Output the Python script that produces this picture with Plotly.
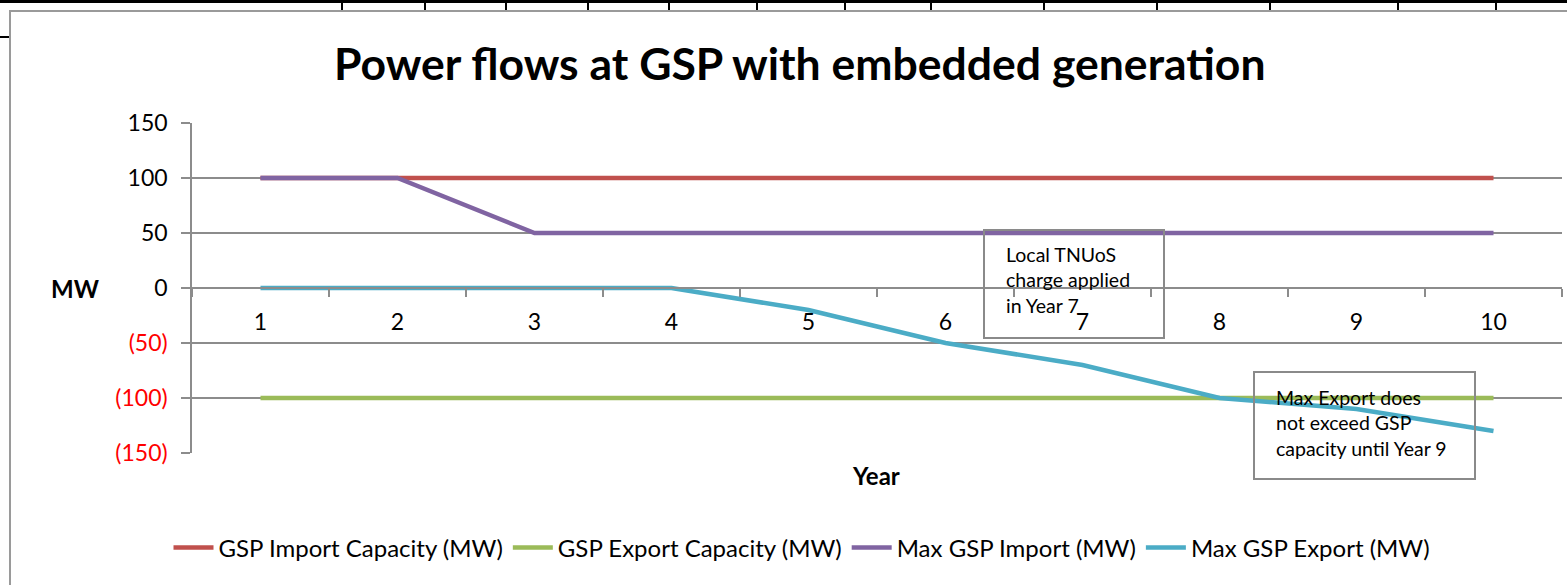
import plotly.graph_objects as go

# ---- data ----
years = ["1", "2", "3", "4", "5", "6", "7", "8", "9", "10"]
gsp_import_capacity = [100, 100, 100, 100, 100, 100, 100, 100, 100, 100]
gsp_export_capacity = [-100, -100, -100, -100, -100, -100, -100, -100, -100, -100]
max_gsp_import = [100, 100, 50, 50, 50, 50, 50, 50, 50, 50]
max_gsp_export = [0, 0, 0, 0, -20, -50, -70, -100, -110, -130]

series_names = ["GSP Import Capacity (MW)", "GSP Export Capacity (MW)",
                "Max GSP Import (MW)", "Max GSP Export (MW)"]
y_tickvals = [150, 100, 50, 0, -50, -100, -150]

title_text = "Power flows at GSP with embedded generation"
note1 = "Local TNUoS<br>charge applied<br>in Year 7"
note2 = "Max Export does<br>not exceed GSP<br>capacity until Year 9"

# ---- layout helpers (pixel -> paper) ----
W, H = 1567, 585
L, R, T, B = 192, 1562, 123, 453
def px(x):
    return (x - L) / (R - L)
def py(y):
    return (B - y) / (B - T)

FONT = "Lato"
GRID = "#8c8c8c"
colors = ["#C0504D", "#9BBB59", "#8064A2", "#4BACC6"]

def fmt(v):
    if v < 0:
        return f"<span style='color:#FF0000'>({abs(v)})</span>"
    return str(v)

y_ticktext = [fmt(v) for v in y_tickvals]

fig = go.Figure()
for name, vals, c in zip(series_names,
                         [gsp_import_capacity, gsp_export_capacity, max_gsp_import, max_gsp_export],
                         colors):
    fig.add_trace(go.Scatter(x=years, y=vals, mode="lines", name=name,
                             line=dict(color=c, width=4.5)))

shapes = []
# spreadsheet cell lines at top
shapes.append(dict(type="line", xref="paper", yref="paper", x0=px(0), x1=px(W), y0=py(1.5), y1=py(1.5),
                   line=dict(color="black", width=3), layer="above"))
for xv in [342, 425, 506, 588, 669, 757, 845, 931, 1044, 1157, 1270, 1398, 1496]:
    shapes.append(dict(type="line", xref="paper", yref="paper", x0=px(xv), x1=px(xv), y0=py(0), y1=py(11),
                       line=dict(color="black", width=2)))
shapes.append(dict(type="line", xref="paper", yref="paper", x0=px(0), x1=px(10), y0=py(37), y1=py(37),
                   line=dict(color="black", width=2)))
# chart frame (top and left edges)
shapes.append(dict(type="path", xref="paper", yref="paper",
                   path=f"M {px(10)},{py(H+5)} L {px(10)},{py(11)} L {px(W+5)},{py(11)}",
                   line=dict(color="#9a9a9a", width=2)))
# note boxes
shapes.append(dict(type="rect", xref="paper", yref="paper", x0=px(984), x1=px(1164), y0=py(230), y1=py(338),
                   line=dict(color="#8a8a8a", width=2), fillcolor="rgba(0,0,0,0)"))
shapes.append(dict(type="rect", xref="paper", yref="paper", x0=px(1254), x1=px(1475), y0=py(372), y1=py(479),
                   line=dict(color="#8a8a8a", width=2), fillcolor="rgba(0,0,0,0)"))

annotations = [
    dict(text=f"<b>{title_text}</b>", xref="paper", yref="paper", x=px(800), y=py(62),
         xanchor="center", yanchor="middle", showarrow=False,
         font=dict(family=FONT, size=44.5, color="black")),
    dict(text="<b>MW</b>", xref="paper", yref="paper", x=px(75), y=py(288),
         xanchor="center", yanchor="middle", showarrow=False,
         font=dict(family=FONT, size=24, color="black")),
    dict(text="<b>Year</b>", xref="paper", yref="paper", x=px(876), y=py(475),
         xanchor="center", yanchor="middle", showarrow=False,
         font=dict(family=FONT, size=24, color="black")),
    dict(text=note1, xref="paper", yref="paper", x=px(1004), y=py(241),
         xanchor="left", yanchor="top", align="left", showarrow=False,
         font=dict(family=FONT, size=19.5, color="black")),
    dict(text=note2, xref="paper", yref="paper", x=px(1274), y=py(384),
         xanchor="left", yanchor="top", align="left", showarrow=False,
         font=dict(family=FONT, size=19.5, color="black")),
]

fig.update_layout(
    width=W, height=H,
    margin=dict(l=L, r=W - R, t=T, b=H - B, autoexpand=False),
    paper_bgcolor="white", plot_bgcolor="white",
    font=dict(family=FONT, size=23, color="black"),
    showlegend=True,
    legend=dict(orientation="h", x=px(802), y=py(548), xanchor="center", yanchor="middle",
                font=dict(family=FONT, size=24, color="black"), itemwidth=40,
                bgcolor="rgba(0,0,0,0)"),
    shapes=shapes,
    annotations=annotations,
    xaxis=dict(type="category", range=[-0.5, 9.5], anchor="free", position=0.5,
               showline=True, linecolor=GRID, linewidth=1.5,
               ticks="outside", tickson="boundaries", ticklen=8, tickcolor=GRID, tickwidth=1.5,
               showgrid=False, zeroline=False, ticklabelstandoff=14,
               tickfont=dict(family=FONT, size=23, color="black")),
    yaxis=dict(range=[-150, 150], tickvals=y_tickvals, ticktext=y_ticktext,
               showgrid=True, gridcolor=GRID, gridwidth=1.5,
               showline=True, linecolor=GRID, linewidth=1.5,
               ticks="outside", ticklen=9, tickcolor=GRID, tickwidth=1.5,
               zeroline=False, ticklabelstandoff=9,
               tickfont=dict(family=FONT, size=23, color="black")),
)

fig.write_html("out.html",
               config={"displayModeBar": False},
               post_script="document.body.style.margin='0';document.body.style.overflow='hidden';")
